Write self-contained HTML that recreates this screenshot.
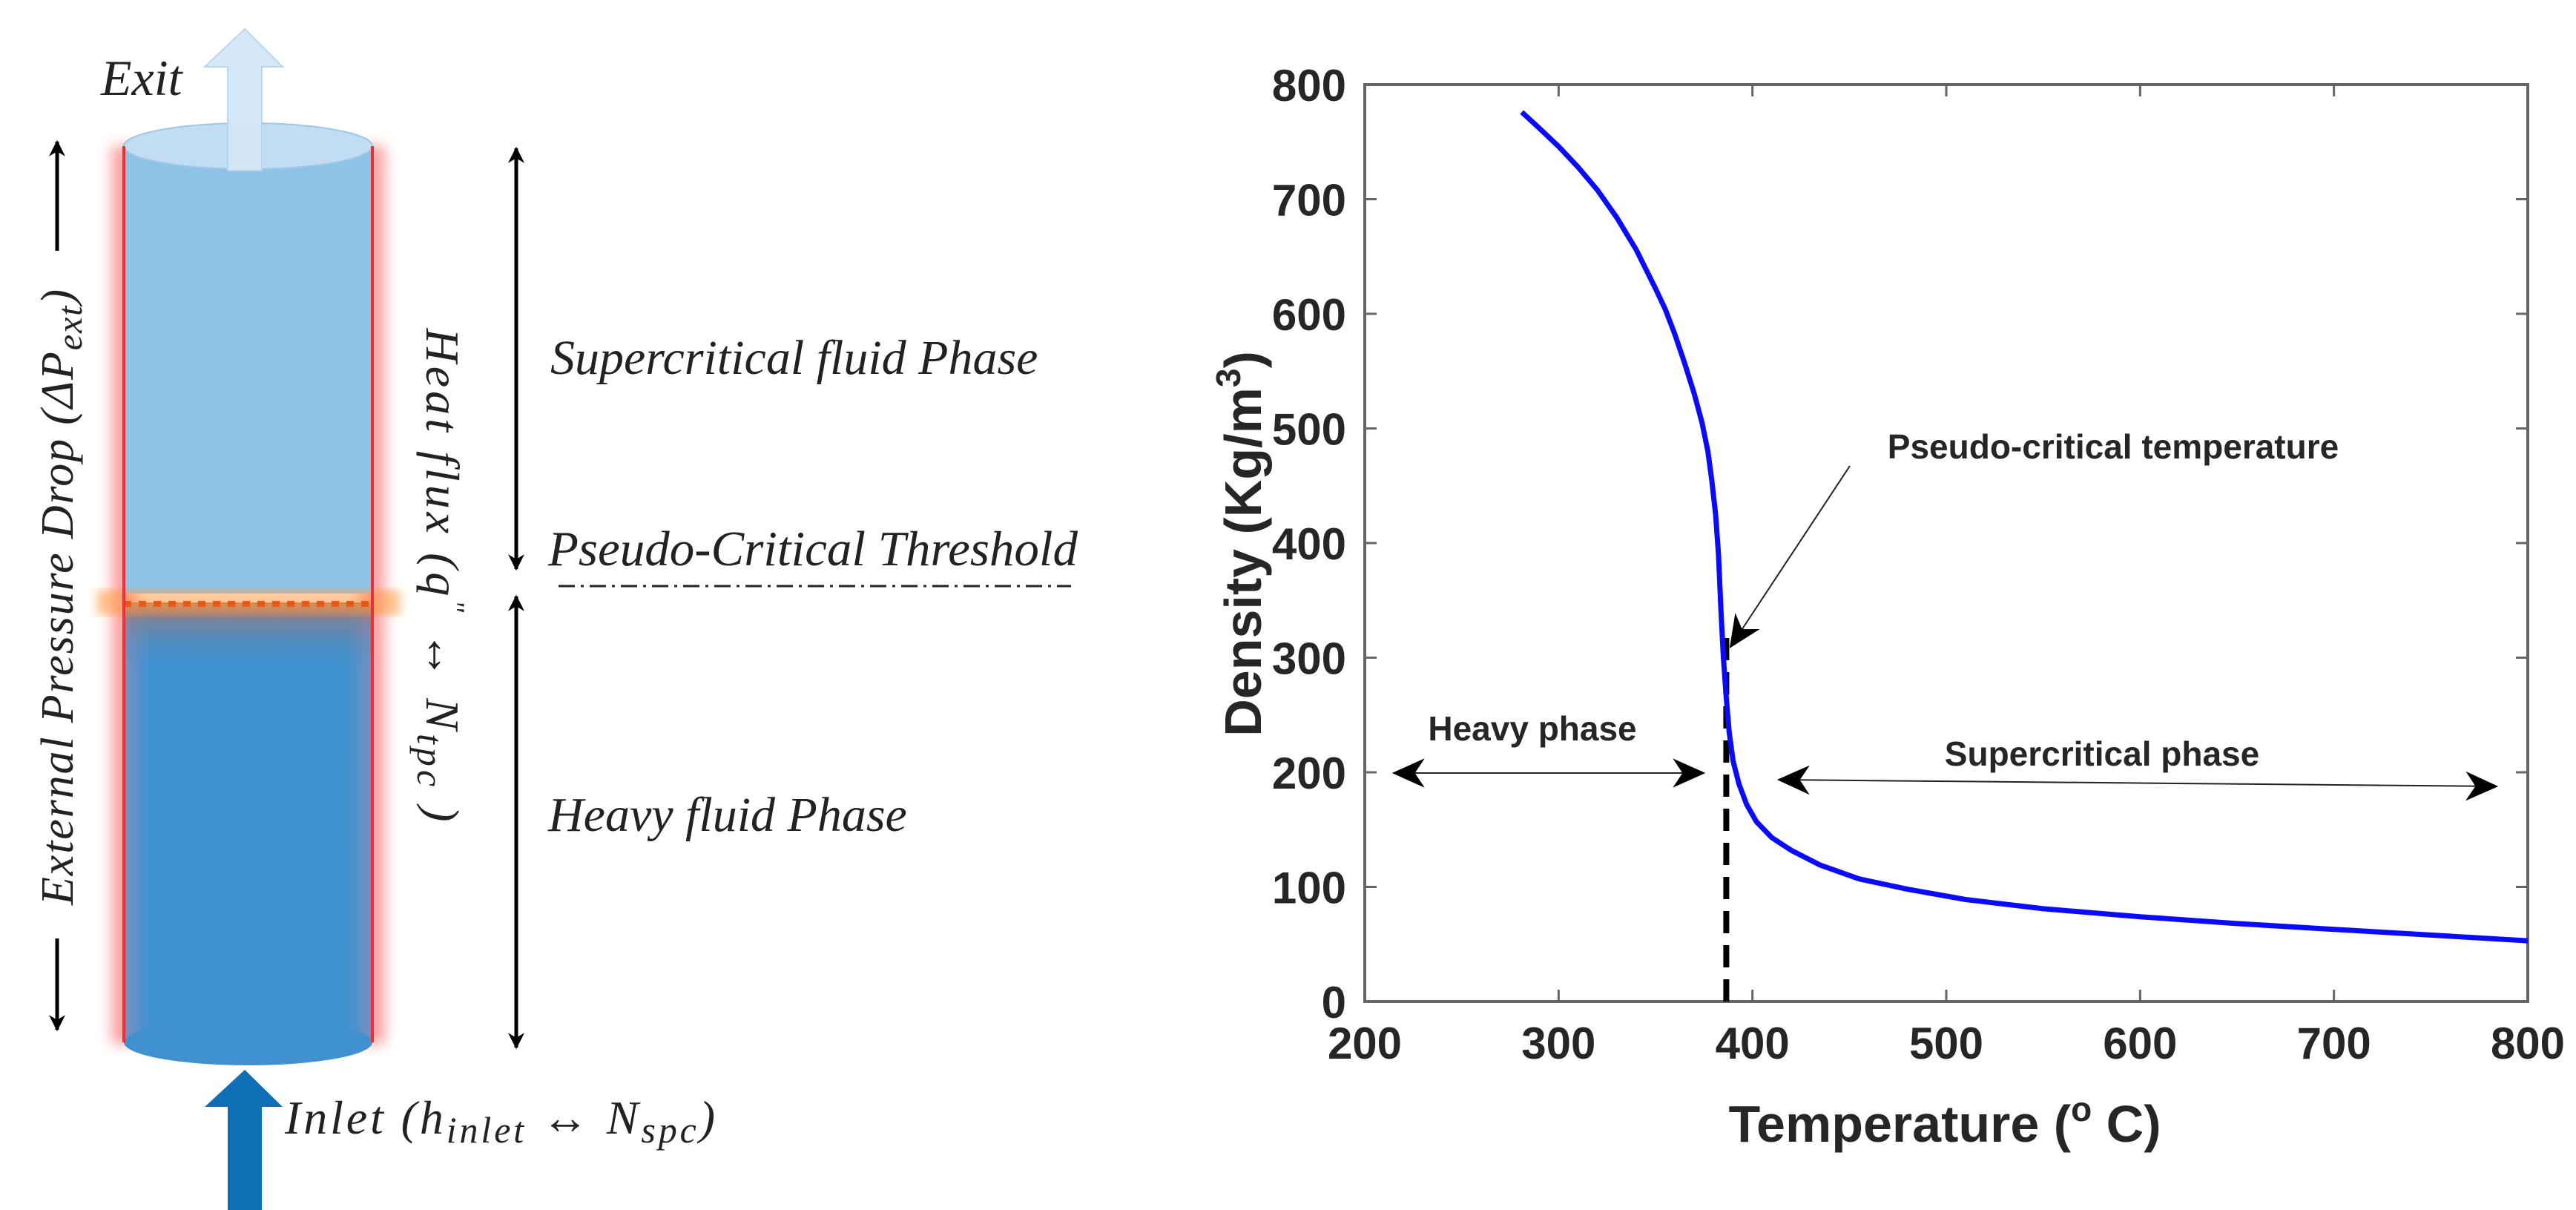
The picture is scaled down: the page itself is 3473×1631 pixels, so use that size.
<!DOCTYPE html>
<html><head><meta charset="utf-8"><style>
html,body{margin:0;padding:0;background:#fff;}
svg{display:block;}
.ser{font-family:"Liberation Serif",serif;font-style:italic;fill:#222;}
.sans{font-family:"Liberation Sans",sans-serif;font-weight:bold;fill:#262626;}
</style></head><body>
<svg id="root" width="3473" height="1631" viewBox="0 0 3473 1631" xmlns="http://www.w3.org/2000/svg">
<defs>
<filter id="glow" x="-50%" y="-5%" width="200%" height="110%"><feGaussianBlur stdDeviation="9"/></filter>
<filter id="blur4"><feGaussianBlur stdDeviation="6"/></filter>
<linearGradient id="botg" x1="0" x2="1" y1="0" y2="0">
<stop offset="0" stop-color="#7c8fc0"/><stop offset="0.1" stop-color="#3f91d0"/><stop offset="0.9" stop-color="#3f91d0"/><stop offset="1" stop-color="#7c8fc0"/></linearGradient>
<linearGradient id="fadeg" x1="0" x2="0" y1="0" y2="1">
<stop offset="0" stop-color="#c0705a" stop-opacity="0.8"/><stop offset="1" stop-color="#3f91d0" stop-opacity="0"/></linearGradient>
<marker id="ah" viewBox="0 0 20 20" refX="18" refY="10" markerWidth="22" markerHeight="22" markerUnits="userSpaceOnUse" orient="auto-start-reverse"><path d="M0,0 L20,10 L0,20 L6,10 Z" fill="#000"/></marker>
<marker id="ahb" viewBox="0 0 40 40" refX="38" refY="20" markerWidth="44" markerHeight="44" markerUnits="userSpaceOnUse" orient="auto-start-reverse"><path d="M0,2 L40,20 L0,38 L12,20 Z" fill="#000"/></marker>
</defs>

<!-- LEFT DIAGRAM -->
<g>
  <rect x="150" y="197" width="34" height="1210" fill="#ff6060" opacity="0.6" filter="url(#glow)"/>
  <rect x="485" y="197" width="34" height="1210" fill="#ff6060" opacity="0.6" filter="url(#glow)"/>
  <rect x="167" y="812" width="335" height="595" fill="url(#botg)"/>
  <rect x="167" y="812" width="335" height="90" fill="url(#fadeg)"/>
  <ellipse cx="334.5" cy="1405" rx="167.5" ry="31" fill="#3f91d0"/>
  <rect x="167" y="197" width="335" height="603" fill="#8ec3e8"/>
  <ellipse cx="334.5" cy="197" rx="167.5" ry="31" fill="#c2ddf1" stroke="#9cc7e6" stroke-width="2"/>
  <rect x="130" y="795" width="410" height="34" fill="#ff9a3c" opacity="0.55" filter="url(#blur4)"/>
  <line x1="167" y1="814" x2="502" y2="814" stroke="#e8581a" stroke-width="8" stroke-dasharray="10,10"/>
  <line x1="167" y1="197" x2="167" y2="1405" stroke="#e8303a" stroke-width="4"/>
  <line x1="502" y1="197" x2="502" y2="1405" stroke="#e8303a" stroke-width="4"/>
  <path d="M307,230 L307,90 L276,90 L330,39 L381,90 L353,90 L353,230 Z" fill="#d3e7f6" stroke="#b6d5ee" stroke-width="2" opacity="0.95"/>
  <path d="M307,1631 L307,1492 L276,1492 L330,1442 L381,1492 L353,1492 L353,1631 Z" fill="#0e6fb5"/>
  <text class="ser" x="136" y="128" font-size="68">Exit</text>
  <text class="ser" x="384" y="1528" font-size="64" textLength="580">Inlet (h<tspan font-size="50" dy="12">inlet</tspan><tspan dy="-12"> ↔ N</tspan><tspan font-size="50" dy="12">spc</tspan><tspan dy="-12">)</tspan></text>
  <line x1="77" y1="338" x2="77" y2="191" stroke="#000" stroke-width="5" marker-end="url(#ah)"/>
  <line x1="77" y1="1265" x2="77" y2="1388" stroke="#000" stroke-width="5" marker-end="url(#ah)"/>
  <text class="ser" transform="translate(98,805) rotate(-90)" text-anchor="middle" font-size="62" textLength="830">External Pressure Drop (ΔP<tspan font-size="48" dy="12">ext</tspan><tspan dy="-12">)</tspan></text>
  <text class="ser" transform="translate(575,775) rotate(90)" text-anchor="middle" font-size="64" textLength="665">Heat flux (q<tspan font-size="40" dy="-24">"</tspan><tspan dy="24"> ↔ N</tspan><tspan font-size="50" dy="12">tpc</tspan><tspan dy="-12"> )</tspan></text>
  <line x1="696" y1="200" x2="696" y2="767" stroke="#000" stroke-width="5" marker-start="url(#ah)" marker-end="url(#ah)"/>
  <line x1="696" y1="804" x2="696" y2="1412" stroke="#000" stroke-width="5" marker-start="url(#ah)" marker-end="url(#ah)"/>
  <text class="ser" x="742" y="504" font-size="66">Supercritical fluid Phase</text>
  <text class="ser" x="739" y="762" font-size="67">Pseudo-Critical Threshold</text>
  <line x1="753" y1="790" x2="1444" y2="790" stroke="#222" stroke-width="3" stroke-dasharray="22,8,4,8"/>
  <text class="ser" x="739" y="1120" font-size="66">Heavy fluid Phase</text>
</g>

<!-- RIGHT CHART -->
<g id="chart"></g>
</svg>
<script>
const temps = [281, 290, 300, 310, 320, 330, 340, 350, 355, 360, 365, 370, 374, 377, 379, 381, 382.5, 383.8, 385, 386.5, 388, 390, 393, 397, 402, 410, 420, 435, 455, 480, 510, 550, 600, 650, 700, 750, 800];
const densities = [776, 762, 746, 728, 708, 684, 656, 622, 604, 582, 557, 530, 505, 480, 455, 425, 390, 340, 300, 265, 235, 210, 190, 172, 157, 143, 132, 119, 107, 98, 89, 81, 74, 68, 63, 58, 53];
const xTicks = [200, 300, 400, 500, 600, 700, 800];
const yTicks = [0, 100, 200, 300, 400, 500, 600, 700, 800];
const pseudoT = 386.5;
const pseudoTop = 322;

const L=1840,R=3408,T=114,B=1350;
const x = v => L + (v-200)/600*(R-L);
const y = v => B - v/800*(B-T);
const NS="http://www.w3.org/2000/svg";
const g=document.getElementById('chart');
function mk(tag, attrs, parent){const e=document.createElementNS(NS,tag);for(const k in attrs)e.setAttribute(k,attrs[k]);(parent||g).appendChild(e);return e;}

const box=mk('rect',{x:L,y:T,width:R-L,height:B-T,fill:'none',stroke:'#666','stroke-width':4});



xTicks.forEach(v=>{
  const t1=mk('line',{x1:x(v),x2:x(v),y1:B,y2:B-16,stroke:'#666','stroke-width':3});
  
  
  const t2=mk('line',{x1:x(v),x2:x(v),y1:T,y2:T+16,stroke:'#666','stroke-width':3});
  
  
  const lb=mk('text',{x:x(v),y:1427,'text-anchor':'middle','font-size':60,class:'sans'});
  lb.textContent=v;
  
  
});
yTicks.forEach(v=>{
  const t1=mk('line',{x1:L,x2:L+16,y1:y(v),y2:y(v),stroke:'#666','stroke-width':3});
  
  
  const t2=mk('line',{x1:R,x2:R-16,y1:y(v),y2:y(v),stroke:'#666','stroke-width':3});
  
  
  const lb=mk('text',{x:1815,y:y(v)+22,'text-anchor':'end','font-size':60,class:'sans'});
  lb.textContent=v;
  
  
});

const dash=mk('line',{x1:x(pseudoT),x2:x(pseudoT),y1:y(0),y2:y(pseudoTop),stroke:'#000','stroke-width':8,'stroke-dasharray':'30,16'});



let d='';
temps.forEach((t,i)=>{d+=(i?'L':'M')+x(t).toFixed(1)+','+y(densities[i]).toFixed(1);});
const curve=mk('path',{d:d,fill:'none',stroke:'#0a0aff','stroke-width':7,'stroke-linejoin':'round'});



const xt=mk('text',{x:2622,y:1539,'text-anchor':'middle','font-size':70,class:'sans'});
xt.innerHTML='Temperature (<tspan font-size="46" dy="-28">o</tspan><tspan dy="28"> C)</tspan>';


const yt=mk('text',{transform:'translate(1700,733) rotate(-90)','text-anchor':'middle','font-size':70,class:'sans'});
yt.innerHTML='Density (Kg/m<tspan font-size="46" dy="-28">3</tspan><tspan dy="28">)</tspan>';



const a1=mk('text',{x:2849,y:618,'text-anchor':'middle','font-size':46,class:'sans'});
a1.textContent='Pseudo-critical temperature';


const ar1=mk('line',{x1:2494,y1:628,x2:2333,y2:872,stroke:'#222','stroke-width':2,'marker-end':'url(#ahb)'});



const a2=mk('text',{x:2066,y:998,'text-anchor':'middle','font-size':46,class:'sans'});
a2.textContent='Heavy phase';


const ar2=mk('line',{x1:1879,y1:1042,x2:2297,y2:1042,stroke:'#222','stroke-width':2,'marker-start':'url(#ahb)','marker-end':'url(#ahb)'});



const a3=mk('text',{x:2834,y:1032,'text-anchor':'middle','font-size':46,class:'sans'});
a3.textContent='Supercritical phase';


const ar3=mk('line',{x1:2398,y1:1051,x2:3366,y2:1060,stroke:'#222','stroke-width':2,'marker-start':'url(#ahb)','marker-end':'url(#ahb)'});


</script>
</body></html>
